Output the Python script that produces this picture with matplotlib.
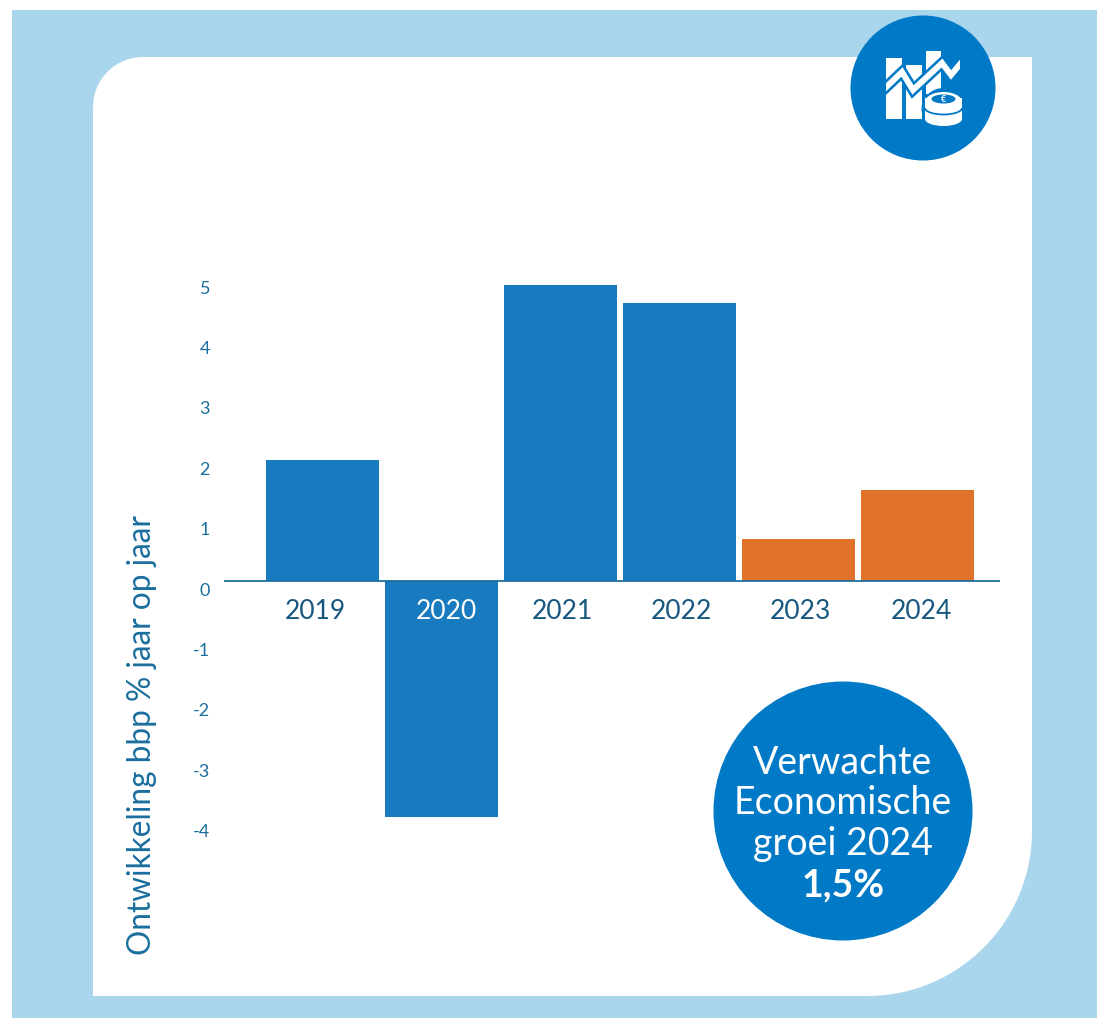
import matplotlib
matplotlib.use("Agg")
import matplotlib.pyplot as plt
from matplotlib.patches import Circle, Ellipse, PathPatch, Rectangle
from matplotlib.path import Path
from matplotlib.transforms import ScaledTranslation

years = ["2019", "2020", "2021", "2022", "2023", "2024"]
growth = [2.0, -3.9, 4.9, 4.6, 0.7, 1.5]
bar_colors = ["#187BBF", "#187BBF", "#187BBF", "#187BBF", "#E07329", "#E07329"]
y_ticks = [5, 4, 3, 2, 1, 0, -1, -2, -3, -4]
y_label = "Ontwikkeling bbp % jaar op jaar"
callout = ["Verwachte", "Economische", "groei 2024"]
callout_value = "1,5%"

W, H = 1097, 1018
LIGHT = "#A9D6EC"
BLUE = "#0079C7"
TEXT = "#1A6E9E"
DARK = "#17577F"
plt.rcParams["font.family"] = ["Lato", "DejaVu Sans"]

fig = plt.figure(figsize=(W / 100, H / 100), dpi=100, facecolor="white")

# Decorative panel in pixel coordinates
bg = fig.add_axes([0, 0, 1, 1], zorder=0)
bg.set_xlim(0, W)
bg.set_ylim(H, 0)
bg.axis("off")
bg.add_patch(Rectangle((12, 10), W - 12, H - 10, fc=LIGHT, ec="none"))
L, R, T, B, r1, r2 = 93, 1032, 57, 996, 50, 165
k = 0.5523
verts = [(L + r1, T), (R, T), (R, B - r2),
         (R, B - r2 + k * r2), (R - r2 + k * r2, B), (R - r2, B),
         (L, B), (L, T + r1),
         (L, T + r1 - k * r1), (L + r1 - k * r1, T), (L + r1, T), (L + r1, T)]
codes = [Path.MOVETO, Path.LINETO, Path.LINETO,
         Path.CURVE4, Path.CURVE4, Path.CURVE4,
         Path.LINETO, Path.LINETO,
         Path.CURVE4, Path.CURVE4, Path.CURVE4, Path.CLOSEPOLY]
bg.add_patch(PathPatch(Path(verts, codes), fc="white", ec="none"))

# Chart
ax = fig.add_axes([224 / W, 1 - 860 / H, (1000 - 224) / W, (860 - 260) / H], zorder=1)
ax.patch.set_alpha(0)
ax.bar(range(len(years)), growth, width=113 / 119, color=bar_colors, linewidth=0)
ax.set_xlim((224 - 322.5) / 119, (1000 - 322.5) / 119)
ax.set_ylim((581 - 860) / 60.4, (581 - 260) / 60.4)
for s in ["top", "right", "left", "bottom"]:
    ax.spines[s].set_visible(False)
ax.axhline(0, color="#1F6F9E", lw=1.3, zorder=3)
ax.set_axisbelow(False)

ax.set_xticks(range(len(years)), years)
ax.set_yticks(y_ticks, [str(v) for v in y_ticks])
ax.tick_params(axis="both", length=0)
ax.tick_params(axis="x", labelsize=19, labelcolor=DARK, pad=0)
ax.tick_params(axis="y", labelsize=13, labelcolor=TEXT, pad=0)


def shift(label, dx, dy):
    label.set_transform(label.get_transform() +
                        ScaledTranslation(dx / 100, dy / 100, fig.dpi_scale_trans))


for label, dx in zip(ax.get_xticklabels(), [-7.5, 4.5, 1.5, 1.5, 1.5, 3.5]):
    shift(label, dx, 261)
ax.get_xticklabels()[1].set_color("white")
for label in ax.get_yticklabels():
    shift(label, -14, -8)
ax.set_ylabel(y_label, fontsize=22.7, color=TEXT, va="center")
ax.yaxis.set_label_coords(142, 735, transform=bg.transData)

# Overlay: badges and callout
fg = fig.add_axes([0, 0, 1, 1], zorder=2)
fg.set_xlim(0, W)
fg.set_ylim(H, 0)
fg.axis("off")
fg.patch.set_alpha(0)
fg.add_patch(Circle((923, 88), 72.5, fc=BLUE, ec="none"))
fg.add_patch(Circle((843, 811), 129.5, fc=BLUE, ec="none"))

# Icon
for x0, x1, y0, y1 in [(886, 902, 58, 119), (906, 922, 65, 119), (926, 941, 51, 94)]:
    fg.add_patch(Rectangle((x0, y0), x1 - x0, y1 - y0, fc="white", ec="none"))
zig_x = [880, 902, 913, 942, 951, 966]
zig_y = [93, 72, 90, 63, 75, 57]
clip = Rectangle((886, 40), 73.5, 70, transform=fg.transData)
for color, lw in [(BLUE, 8), ("white", 4.3)]:
    line, = fg.plot(zig_x, zig_y, color=color, lw=lw, solid_joinstyle="miter", solid_capstyle="butt")
    line.set_clip_path(clip)
fg.add_patch(Ellipse((943.5, 109), 44, 42, fc=BLUE, ec="none"))
fg.add_patch(Ellipse((943.5, 119), 37, 14, fc="white", ec="none"))
fg.add_patch(Rectangle((925, 102), 37, 17, fc="white", ec="none"))
fg.add_patch(Ellipse((943.5, 108), 37, 13, fc="none", ec=BLUE, lw=1.3))
fg.add_patch(Rectangle((925, 98), 37, 10, fc="white", ec="none"))
fg.add_patch(Ellipse((943.5, 102), 37, 20, fc="white", ec="none"))
fg.add_patch(Ellipse((943.5, 99), 24, 9, fc=BLUE, ec="none"))
fg.text(943.5, 99.5, "€", color="white", fontsize=6.5, ha="center", va="center", fontweight="bold")

# Callout text
for line_text, y in zip(callout, [763, 803, 844]):
    fg.text(843, y, line_text, color="white", fontsize=27, ha="center", va="center")
fg.text(843, 885, callout_value, color="white", fontsize=27, fontweight="bold", ha="center", va="center")

fig.savefig("out.png", dpi=100)
